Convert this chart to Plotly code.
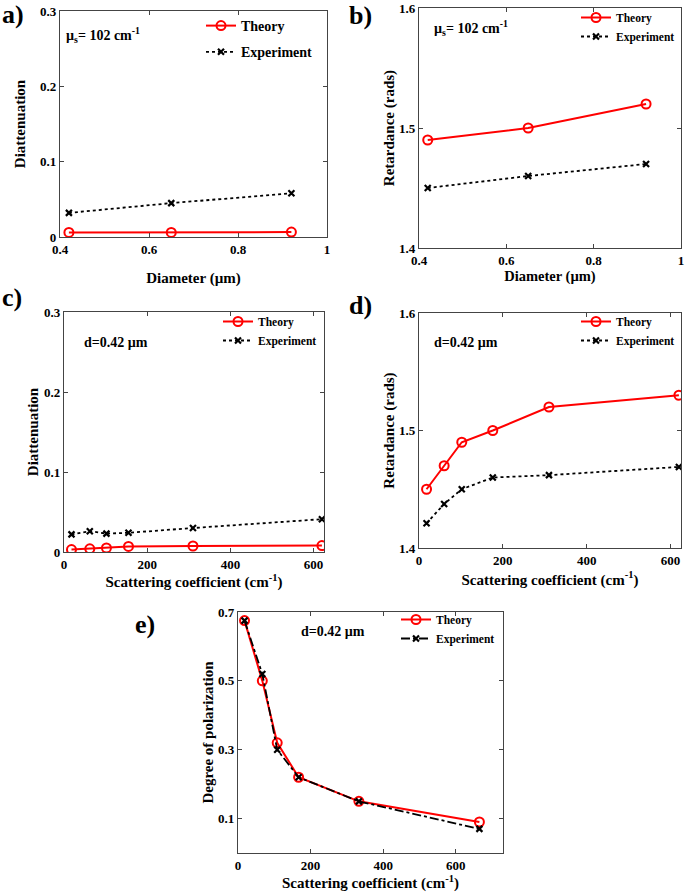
import plotly.graph_objects as go

# 数据
diam = [0.42, 0.65, 0.92]
a_theory = [0.006, 0.006, 0.0065]
a_exp = [0.032, 0.045, 0.058]
b_theory = [1.49, 1.50, 1.52]
b_exp = [1.45, 1.46, 1.47]

c_mus = [18, 62, 102, 155, 310, 620]
c_theory = [0.003, 0.004, 0.005, 0.007, 0.0075, 0.008]
c_exp = [0.022, 0.026, 0.023, 0.024, 0.030, 0.041]

d_mus = [18, 60, 102, 176, 310, 620]
d_theory = [1.45, 1.47, 1.49, 1.50, 1.52, 1.53]
d_exp = [1.421, 1.4375, 1.45, 1.46, 1.462, 1.469]

e_mus = [18, 67, 108, 167, 333, 665]
e_theory = [0.675, 0.50, 0.32, 0.22, 0.15, 0.09]
e_exp = [0.675, 0.52, 0.30, 0.22, 0.15, 0.07]

W, H = 685, 893
FONT = "Liberation Serif"
RED = "#ff0000"

def px_x(a, b):
    return [a / W, b / W]

def px_y(top, bottom):
    return [1 - bottom / H, 1 - top / H]

fig = go.Figure()

panels = [
    # x, theory, exp, axis suffix, legend, exp dash
    (diam, a_theory, a_exp, "", "legend", "dot"),
    (diam, b_theory, b_exp, "2", "legend2", "dot"),
    (c_mus, c_theory, c_exp, "3", "legend3", "dot"),
    (d_mus, d_theory, d_exp, "4", "legend4", "dot"),
    (e_mus, e_theory, e_exp, "5", "legend5", "dashdot"),
]

for x, th, ex, sfx, leg, dash in panels:
    fig.add_trace(go.Scatter(
        x=x, y=th, name="Theory", mode="lines+markers",
        line=dict(color=RED, width=2),
        marker=dict(symbol="circle-open", size=9, color=RED, line=dict(width=2)),
        xaxis="x" + sfx, yaxis="y" + sfx, legend=leg, legendgroup="t" + sfx))
    fig.add_trace(go.Scatter(
        x=x, y=ex, name="Experiment", mode="lines+markers",
        line=dict(color="black", width=1.8, dash=dash),
        marker=dict(symbol="x-thin-open", size=6, color="black", line=dict(width=2.2, color="black")),
        xaxis="x" + sfx, yaxis="y" + sfx, legend=leg, legendgroup="e" + sfx))

axis_common = dict(showline=True, linecolor="#444", linewidth=1.2, mirror="ticks",
                   ticks="inside", ticklen=4, tickcolor="#444", showgrid=False,
                   zeroline=False, automargin=False,
                   tickfont=dict(size=13, family=FONT, color="black", weight="bold"))

def xax(dom, rng, tickvals, title, anchor, standoff, ttl_size=15):
    return dict(axis_common, domain=dom, range=rng, tickvals=tickvals, anchor=anchor,
                title=dict(text=title, standoff=standoff,
                           font=dict(size=ttl_size, family=FONT, color="black", weight="bold")))

def yax(dom, rng, tickvals, ticktext, title, anchor, standoff, ttl_size=15):
    return dict(axis_common, domain=dom, range=rng, tickvals=tickvals, ticktext=ticktext,
                anchor=anchor,
                title=dict(text=title, standoff=standoff,
                           font=dict(size=ttl_size, family=FONT, color="black", weight="bold")))

scat = "Scattering coefficient (cm<sup>-1</sup>)"

fig.update_layout(
    width=W, height=H,
    margin=dict(l=0, r=0, t=0, b=0),
    paper_bgcolor="white", plot_bgcolor="white",
    font=dict(family=FONT, color="black", weight="bold"),
    xaxis=xax(px_x(60, 327), [0.4, 1], [0.4, 0.6, 0.8, 1], "Diameter (µm)", "y", 16),
    yaxis=yax(px_y(11, 237), [0, 0.3], [0, 0.1, 0.2, 0.3], ["0", "0.1", "0.2", "0.3"],
              "Diattenuation", "x", 10),
    xaxis2=xax(px_x(419, 681), [0.4, 1], [0.4, 0.6, 0.8, 1], "Diameter (µm)", "y2", 4, 14.5),
    yaxis2=yax(px_y(8, 248), [1.4, 1.6], [1.4, 1.5, 1.6], ["1.4", "1.5", "1.6"],
               "Retardance (rads)", "x2", 0),
    xaxis3=xax(px_x(64, 324), [0, 625], [0, 200, 400, 600], scat, "y3", 0),
    yaxis3=yax(px_y(312, 552), [0, 0.3], [0, 0.1, 0.2, 0.3], ["0", "0.1", "0.2", "0.3"],
               "Diattenuation", "x3", 1),
    xaxis4=xax(px_x(419, 681), [0, 625], [0, 200, 400, 600], scat, "y4", 7),
    yaxis4=yax(px_y(313, 548), [1.4, 1.6], [1.4, 1.5, 1.6], ["1.4", "1.5", "1.6"],
               "Retardance (rads)", "x4", 0),
    xaxis5=xax(px_x(238, 503), [0, 730], [0, 200, 400, 600], scat, "y5", 2),
    yaxis5=yax(px_y(612, 853), [0, 0.7], [0.1, 0.3, 0.5, 0.7], ["0.1", "0.3", "0.5", "0.7"],
               "Degree of polarization", "x5", 0),
)

def legend_at(xr, yt, size, gap):
    return dict(x=xr / W, y=1 - yt / H, xanchor="right", yanchor="top",
                bgcolor="rgba(0,0,0,0)", borderwidth=0, tracegroupgap=gap,
                font=dict(size=size, family=FONT, color="black", weight="bold"),
                itemwidth=30)

fig.update_layout(
    legend=legend_at(318, 10, 14, 5),
    legend2=legend_at(680, 3, 11.5, 0),
    legend3=legend_at(322, 307, 11.5, 0),
    legend4=legend_at(680, 307, 11.5, 0),
    legend5=legend_at(500, 605, 11.5, 0),
)

annots = [
    ("<b>a)</b>", 0, 15, 26),
    ("<b>b)</b>", 347, 16, 26),
    ("<b>c)</b>", 0, 297, 26),
    ("<b>d)</b>", 347, 305, 26),
    ("<b>e)</b>", 133, 624, 26),
    ("<b>µ<sub>s</sub>= 102 cm<sup>-1</sup></b>", 64, 35, 14),
    ("<b>µ<sub>s</sub>= 102 cm<sup>-1</sup></b>", 432, 28, 14),
    ("<b>d=0.42 µm</b>", 82, 342, 14),
    ("<b>d=0.42 µm</b>", 432, 342, 14),
    ("<b>d=0.42 µm</b>", 299, 631, 14),
]
for txt, xp, yp, sz in annots:
    fig.add_annotation(text=txt, x=xp / W, y=1 - yp / H, xref="paper", yref="paper",
                       xanchor="left", yanchor="middle", showarrow=False,
                       font=dict(size=sz, family=FONT, color="black"))

# 去掉页面默认边距，让图从左上角开始
fig.write_html("out.html", config={"displayModeBar": False},
               post_script="document.body.style.margin='0';")
